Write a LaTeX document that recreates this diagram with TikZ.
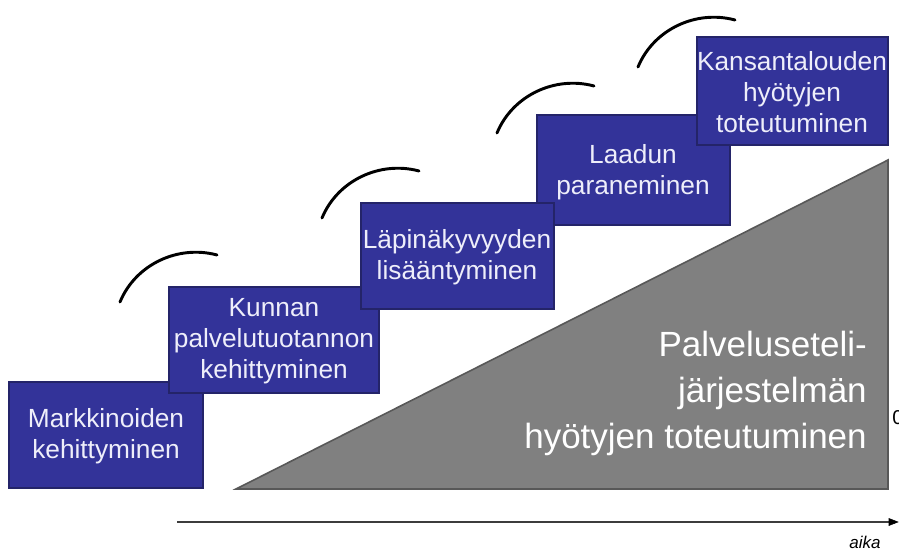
\documentclass[tikz,border=0pt]{standalone}
\usepackage{fontspec}
\setmainfont{Liberation Sans}
\usepackage{tikz}

\definecolor{stepfill}{RGB}{51,51,153}
\definecolor{stepedge}{RGB}{36,36,105}
\definecolor{steptext}{RGB}{238,238,250}
\definecolor{wedgefill}{RGB}{128,128,128}
\definecolor{wedgeedge}{RGB}{88,88,88}

\begin{document}
\begin{tikzpicture}[x=0.75pt,y=0.75pt,yscale=-1,xscale=1,
  stepbox/.style={draw=stepedge,fill=stepfill,line width=1pt},
  steptxt/.style={text=steptext,align=center,inner sep=0.75pt,font=\fontsize{19.7}{23.3}\selectfont},
  hop/.style={line width=2.2pt,line cap=round}]
\useasboundingbox (0,0) rectangle (899,552);

%Shape: Triangle
\draw [fill=wedgefill,draw=wedgeedge,line width=1.2pt]  (236,489) -- (888,489) -- (888,160) -- cycle ;
% Text Node
\draw (868,393) node [anchor=east][inner sep=0.75pt][text=white,align=right,font=\fontsize{26.25}{34.5}\selectfont] (hyoty)  {Palveluseteli-\\järjestelmän\\hyötyjen toteutuminen};

%Shape: Rectangle
\draw [stepbox]  (9,382) -- (203,382) -- (203,488) -- (9,488) -- cycle ;
% Text Node
\draw (106,436) node [steptxt] (markkinat)  {Markkinoiden\\kehittyminen};
%Shape: Rectangle
\draw [stepbox]  (169,287) -- (379,287) -- (379,393) -- (169,393) -- cycle ;
% Text Node
\draw (274,341) node [steptxt] (kunta)  {Kunnan\\palvelutuotannon\\kehittyminen};
%Shape: Rectangle
\draw [stepbox]  (537,115) -- (730,115) -- (730,225) -- (537,225) -- cycle ;
% Text Node
\draw (633,172) node [steptxt] (laatu)  {Laadun\\paraneminen};
%Shape: Rectangle
\draw [stepbox]  (361,203) -- (554,203) -- (554,309) -- (361,309) -- cycle ;
% Text Node
\draw (457,257) node [steptxt] (lapinakyvyys)  {Läpinäkyvyyden\\lisääntyminen};
%Shape: Rectangle
\draw [stepbox]  (697,37) -- (888,37) -- (888,145) -- (697,145) -- cycle ;
% Text Node
\draw (792,92) node [steptxt] (kansantalous)  {Kansantalouden\\hyötyjen\\toteutuminen};

%Curve Lines
\draw [hop]  (120,302) .. controls (135.5,264.5) and (177.8,244.5) .. (217,255) ;
%Curve Lines
\draw [hop]  (322,218) .. controls (337.5,180.5) and (379.8,160.5) .. (419,171) ;
%Curve Lines
\draw [hop]  (497,133) .. controls (512.5,95.5) and (554.8,75.5) .. (594,86) ;
%Curve Lines
\draw [hop]  (638,67) .. controls (653.5,29.5) and (695.8,9.5) .. (735,20) ;

%Straight Lines
\coordinate (t0) at (177,522);
\coordinate (t1) at (891,522);
\draw [color={rgb, 255:red, 60; green, 60; blue, 60 }, line width=1.5pt]  (t0) -- (t1) ;
\draw [shift={(898,522)}, rotate=0] [fill=black]  (0,0) -- (-9,-3.5) -- (-9,3.5) -- cycle ;

% Text Node
\draw (865,542) node [inner sep=0.75pt][font=\fontsize{12.75}{14}\selectfont\itshape] (aika)  {aika};

% Text Node (cut by the right edge)
\begin{scope}
\clip (0,0) rectangle (899,552);
\draw (892,418) node [anchor=west][inner sep=0pt][font=\fontsize{15}{18}\selectfont] (reuna)  {0};
\end{scope}

\end{tikzpicture}
\end{document}
